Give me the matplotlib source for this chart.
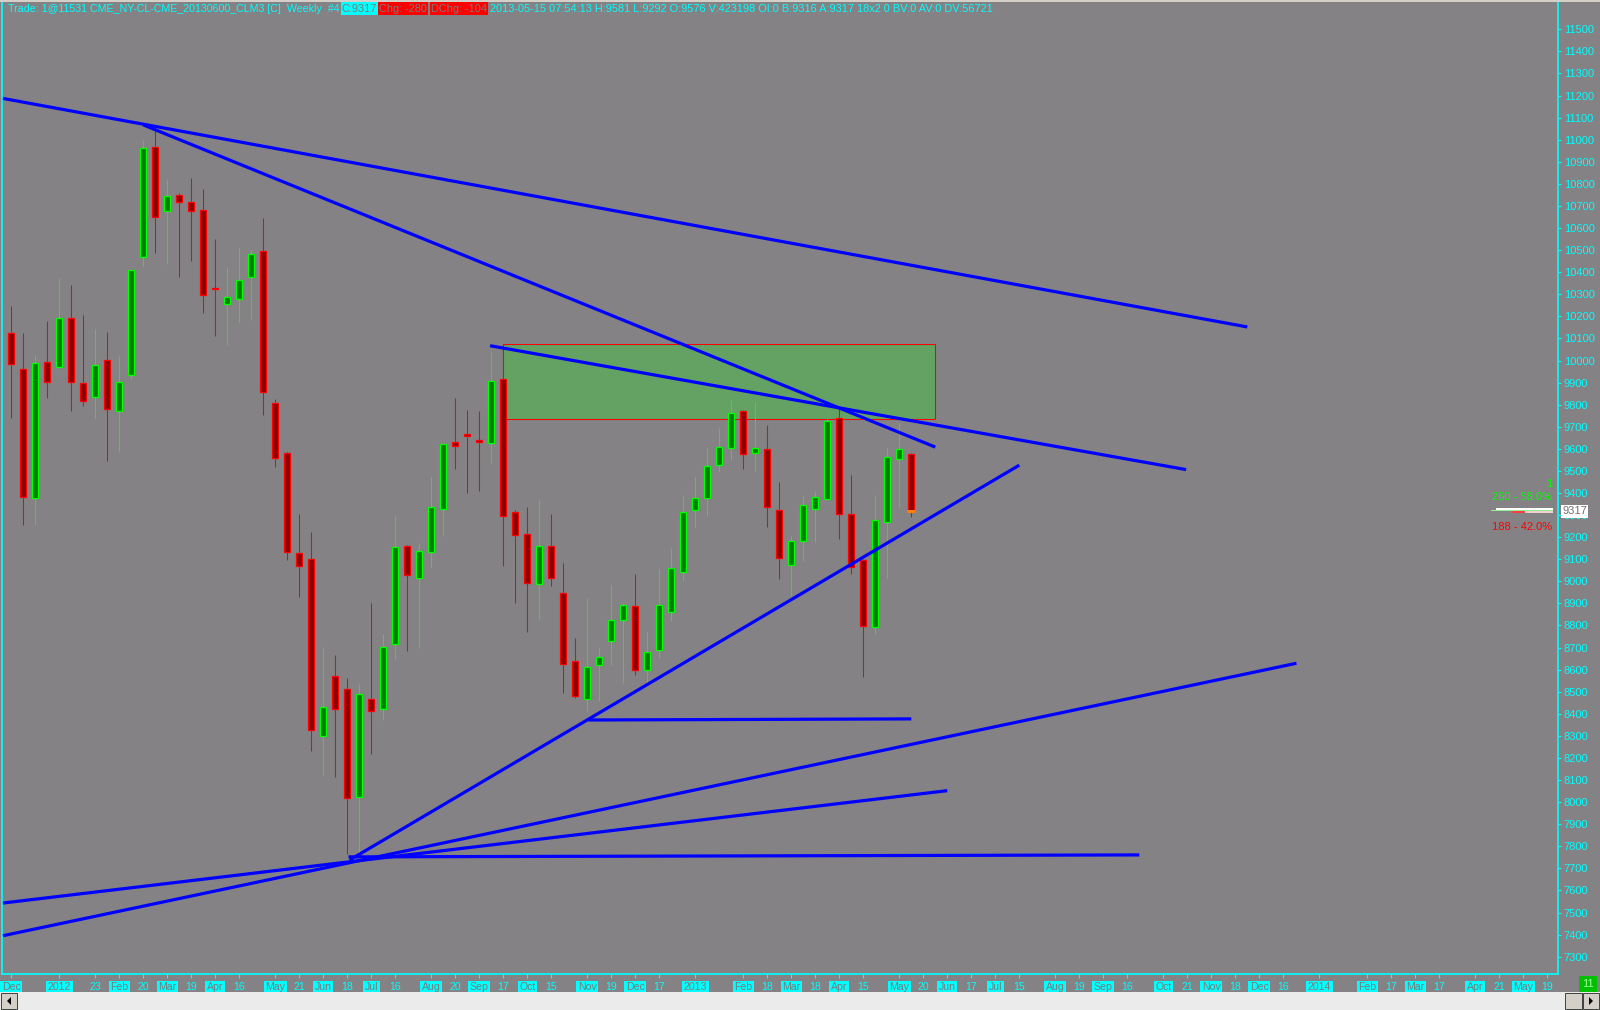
import matplotlib
matplotlib.use('Agg')
import matplotlib.pyplot as plt
from matplotlib.patches import Rectangle, Polygon

W, H = 1600, 1010
BG = '#848284'
CYAN = '#00ffff'
FONT = 'Liberation Sans'

# weekly bars, Dec 5 2011 .. May 13 2013 (prices x100)
opens = [10123, 9960, 9376, 9992, 9969, 10191, 9897, 9833, 10001, 9773,
         9933, 10467, 10965, 10676, 10748, 10716, 10680, 10328, 10254, 10280,
         10380, 10494, 9806, 9580, 9127, 9100, 8300, 8573, 8511, 8022,
         8466, 8421, 8715, 9162, 9014, 9134, 9328, 9633, 9666, 9640,
         9625, 9915, 9316, 9214, 8988, 9162, 8949, 8641, 8467, 8621,
         8730, 8825, 8886, 8599, 8689, 8863, 9041, 9323, 9376, 9525,
         9602, 9773, 9580, 9598, 9322, 9074, 9181, 9326, 9372, 9738,
         9304, 9097, 8795, 9270, 9556, 9576]
highs = [10247, 10125, 10025, 10179, 10372, 10342, 10206, 10141, 10129, 10020,
         10410, 10999, 11052, 10822, 10757, 10825, 10777, 10549, 10422, 10510,
         10500, 10645, 9826, 9587, 9307, 9222, 8704, 8667, 8561, 8535,
         8904, 8762, 9296, 9165, 9172, 9471, 9628, 9829, 9776, 9772,
         10043, 9915, 9323, 9338, 9369, 9305, 9085, 8745, 8923, 8704,
         8984, 8901, 9033, 8769, 9054, 9150, 9391, 9471, 9602, 9693,
         9826, 9776, 9811, 9708, 9449, 9205, 9387, 9409, 9734, 9784,
         9482, 9101, 9391, 9602, 9716, 9581]
lows = [9741, 9255, 9255, 9832, 9969, 9773, 9796, 9741, 9546, 9587,
        9915, 10430, 10488, 10437, 10380, 10452, 10217, 10113, 10072, 10173,
        10184, 9755, 9519, 9097, 8931, 8233, 8123, 8113, 7765, 7745,
        8217, 8372, 8647, 8686, 8697, 9067, 9207, 9507, 9399, 9411,
        9538, 9071, 8901, 8772, 8828, 8981, 8496, 8470, 8413, 8460,
        8621, 8541, 8576, 8535, 8652, 8822, 9003, 9245, 9298, 9497,
        9550, 9507, 9501, 9248, 9009, 8935, 9094, 9180, 9372, 9192,
        9032, 8565, 8760, 9014, 9338, 9292]
closes = [9983, 9380, 9987, 9904, 10191, 9901, 9815, 9978, 9779, 9904,
          10408, 10961, 10648, 10744, 10716, 10676, 10295, 10326, 10286, 10363,
          10482, 9859, 9557, 9132, 9071, 8327, 8433, 8421, 8017, 8488,
          8413, 8704, 9157, 9029, 9139, 9338, 9621, 9613, 9657, 9631,
          9906, 9296, 9210, 8994, 9162, 9014, 8624, 8481, 8614, 8659,
          8825, 8893, 8599, 8682, 8893, 9062, 9316, 9376, 9524, 9610,
          9761, 9575, 9605, 9335, 9104, 9184, 9344, 9381, 9726, 9304,
          9067, 8799, 9278, 9562, 9598, 9317]

# date axis: bar index -> label (month names / years are boxed)
tick_bars = [0, 4, 7, 9, 11, 13, 15, 17, 19, 22, 24, 26, 28, 30, 32, 35, 37, 39, 41,
             43, 45, 48, 50, 52, 54, 57, 61, 63, 65, 67, 69, 71, 74, 76, 78, 80, 82,
             84, 87, 89, 91, 93, 96, 98, 100, 102, 104, 106, 109, 113, 115, 117,
             119, 122, 124, 126, 128]
tick_text = ['Dec', '2012', '23', 'Feb', '20', 'Mar', '19', 'Apr', '16', 'May', '21',
             'Jun', '18', 'Jul', '16', 'Aug', '20', 'Sep', '17', 'Oct', '15', 'Nov',
             '19', 'Dec', '17', '2013', 'Feb', '18', 'Mar', '18', 'Apr', '15', 'May',
             '20', 'Jun', '17', 'Jul', '15', 'Aug', '19', 'Sep', '16', 'Oct', '21',
             'Nov', '18', 'Dec', '16', '2014', 'Feb', '17', 'Mar', '17', 'Apr', '21',
             'May', '19']
price_ticks = list(range(7300, 11501, 100))

# drawn trendlines: (bar0, price0, bar1, price1)
trendlines = [
    (-0.7, 11187, 103.0, 10152),
    (11.0, 11067, 77.0, 9608),
    (39.9, 10067, 97.9, 9506),
    (28.2, 7738, 84.0, 9526),
    (48.1, 8372, 75.0, 8377),
    (-0.7, 7395, 107.1, 8629),
    (-0.7, 7543, 78.0, 8052),
    (28.1, 7752, 94.0, 7761),
]
# shaded zone: bar range and price range
zone_bars = (41.0, 77.0)
zone_prices = (9734, 10074)

last_close = 9317

# pixel calibration of the screenshot
def px_to_bar(x):
    return (x - 11.3) / 12.0

def px_to_price(y):
    return 11500 - (y - 29.3) / 0.22081

fig = plt.figure(figsize=(W / 100, H / 100), dpi=100, facecolor=BG)
ax_l, ax_r, ax_t, ax_b = 2.0, 1558.3, 2.0, 974.0
ax = fig.add_axes([ax_l / W, (H - ax_b) / H, (ax_r - ax_l) / W, (ax_b - ax_t) / H])
ax.set_facecolor(BG)
ax.set_xlim(px_to_bar(ax_l), px_to_bar(ax_r))
ax.set_ylim(px_to_price(ax_b), px_to_price(ax_t))

# zone
z0, z1 = zone_bars
p0, p1 = zone_prices
ax.add_patch(Rectangle((z0, p0), z1 - z0, p1 - p0, fc='#63a263', ec='#ff0000',
                       lw=0.75, zorder=1))

# candles
for i, (o, h, l, c) in enumerate(zip(opens, highs, lows, closes)):
    up = c > o
    edge = '#00ff00' if up else '#ff0000'
    fill = '#008000' if up else '#8b0000'
    ax.vlines(i, l, h, color=edge, lw=0.75, zorder=2)
    ax.add_patch(Rectangle((i - 0.25, min(o, c)), 0.5, max(abs(c - o), 1),
                           fc=fill, ec=edge, lw=0.9, zorder=3))

# last close marker
n = len(closes) - 1
ax.hlines(last_close, n - 0.35, n + 0.35, color='#ff8000', lw=2.2, zorder=4)

for x0, y0, x1, y1 in trendlines:
    ax.plot([x0, x1], [y0, y1], color='#0000ff', lw=2.3, solid_capstyle='butt',
            zorder=5)

# axes styling
ax.spines['top'].set_visible(False)
for s in ('left', 'right', 'bottom'):
    ax.spines[s].set_color(CYAN)
    ax.spines[s].set_linewidth(1.2)

ax.yaxis.tick_right()
ax.set_yticks(price_ticks)
ax.set_yticklabels([str(p) for p in price_ticks])
ax.tick_params(axis='y', colors=CYAN, length=2, width=0.8, pad=2,
               labelsize=8, labelfontfamily=FONT)

ax.set_xticks(tick_bars)
ax.set_xticklabels(tick_text)
ax.tick_params(axis='x', colors=CYAN, length=3, width=0.8, pad=3,
               labelsize=7.6, labelfontfamily=FONT)
for lbl in ax.get_xticklabels():
    if not lbl.get_text().isdigit() or len(lbl.get_text()) == 4:
        lbl.set_color('#7a7a7a')
        lbl.set_bbox(dict(boxstyle='square,pad=0.15', fc=CYAN, ec='none'))

# current price flag on axis
ax.annotate(str(last_close), xy=(1.0, last_close), xycoords=('axes fraction', 'data'),
            xytext=(4, 0), textcoords='offset pixels', va='center', ha='left',
            fontsize=8, family=FONT, color='#707070', zorder=10,
            bbox=dict(boxstyle='square,pad=0.12', fc='white', ec='none'),
            annotation_clip=False)

def ftext(x, y, s, **kw):
    kw.setdefault('fontsize', 7.5)
    kw.setdefault('family', FONT)
    kw.setdefault('va', 'center')
    return fig.text(x / W, 1 - y / H, s, **kw)

# header
ftext(8.4, 8.5, 'Trade: 1@11531 CME_NY-CL-CME_20130600_CLM3 [C]  Weekly  #4',
      color=CYAN, fontsize=7.7)
ftext(342, 8.5, 'C:9317', color='#7a7a7a', fontsize=7.9,
      bbox=dict(boxstyle='square,pad=0.12', fc=CYAN, ec='none'))
ftext(379, 8.5, 'Chg: -280', color='#7a7a7a', fontsize=7.9,
      bbox=dict(boxstyle='square,pad=0.12', fc='#ff0000', ec='none'))
ftext(431, 8.5, 'DChg: -104', color='#7a7a7a', fontsize=7.9,
      bbox=dict(boxstyle='square,pad=0.12', fc='#ff0000', ec='none'))
ftext(490, 8.5, '2013-05-15 07:54:13 H:9581 L:9292 O:9576 V:423198 OI:0 B:9316 '
      'A:9317 18x2 0 BV:0 AV:0 DV:56721', color=CYAN, fontsize=7.9)

# volume-at-price widget on the right
ftext(1552, 484, '1', color='#00ff00', ha='right', fontsize=8)
ftext(1552, 497, '260 - 58.0%', color='#00ff00', ha='right', fontsize=8)
ftext(1552, 527, '188 - 42.0%', color='#ff0000', ha='right', fontsize=8)
for x0, x1, y0, y1, col in [(1491, 1553, 509.5, 511, '#90ee90'),
                            (1496, 1553, 507.5, 509.5, '#ffffff'),
                            (1512, 1525, 511, 512.5, '#ff4040'),
                            (1525, 1553, 511, 512.5, '#f0d0d0')]:
    fig.add_artist(Rectangle((x0 / W, 1 - y1 / H), (x1 - x0) / W, (y1 - y0) / H,
                             transform=fig.transFigure, fc=col, ec='none'))

# top border
fig.add_artist(Rectangle((0, 1 - 2 / H), 1, 2 / H, transform=fig.transFigure,
                         fc='#d4d0c8', ec='none'))

# bar counter box
ftext(1588, 984, '11', color='#a0ffa0', ha='center', fontsize=8,
      bbox=dict(boxstyle='square,pad=0.25', fc='#00c000', ec='none'))

# scrollbar
def frect(x0, y0, x1, y1, **kw):
    fig.add_artist(Rectangle((x0 / W, 1 - y1 / H), (x1 - x0) / W, (y1 - y0) / H,
                             transform=fig.transFigure, **kw))

frect(0, 992, 1600, 1010, fc='#ebebeb', ec='none')
frect(1, 993, 17, 1009, fc='#d4d0c8', ec='#404040', lw=0.7)
frect(1565, 993, 1582, 1009, fc='#d4d0c8', ec='#404040', lw=0.7)
frect(1583, 993, 1599, 1009, fc='#d4d0c8', ec='#404040', lw=0.7)
for pts in ([(7, 1001), (11, 997), (11, 1005)], [(1589, 997), (1593, 1001), (1589, 1005)]):
    fig.add_artist(Polygon([(x / W, 1 - y / H) for x, y in pts], closed=True,
                           transform=fig.transFigure, fc='black', ec='none'))

fig.savefig('out.png', dpi=100, facecolor=BG)
